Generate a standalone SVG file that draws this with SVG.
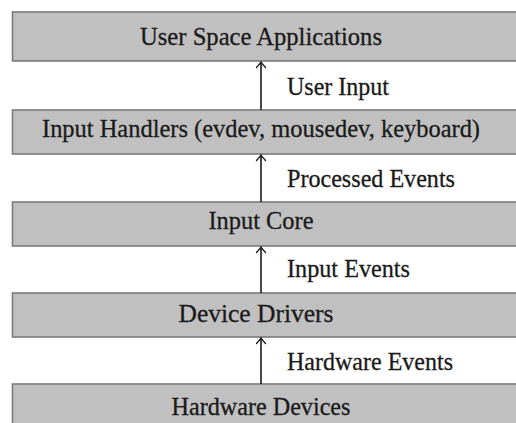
<svg xmlns="http://www.w3.org/2000/svg" width="516" height="423" viewBox="0 0 516 423">
  <style>
    .layer rect { fill: #c0c0c0; stroke: #7a7a7a; stroke-width: 1.6; }
    .layer text, .label { font-family: "Liberation Serif", "Times New Roman", serif; font-size: 25px; fill: #1a1a1a; stroke: #1a1a1a; stroke-width: 0.3; }
    .layer text { text-anchor: middle; }
    .edge { stroke: #1a1a1a; stroke-width: 1.6; fill: none; marker-end: url(#tip); }
  </style>
  <defs>
    <!-- open, curved arrowhead -->
    <marker id="tip" markerUnits="userSpaceOnUse" viewBox="-7 -6 9 12" markerWidth="9" markerHeight="12" refX="0" refY="0" orient="auto">
      <path d="M -5.5 -4.5 Q -1.5 -0.8 0 0 Q -1.5 0.8 -5.5 4.5" fill="none" stroke="#1a1a1a" stroke-width="1.4" stroke-linecap="round"/>
    </marker>
  </defs>
  <rect width="516" height="423" fill="#ffffff"/>

  <g id="user-space" class="layer">
    <rect x="12.5" y="12" width="510" height="49"/>
    <text x="261" y="45" textLength="242" lengthAdjust="spacingAndGlyphs">User Space Applications</text>
  </g>
  <g id="input-handlers" class="layer">
    <rect x="12.5" y="110" width="510" height="44"/>
    <text x="261" y="137" textLength="438" lengthAdjust="spacingAndGlyphs">Input Handlers (evdev, mousedev, keyboard)</text>
  </g>
  <g id="input-core" class="layer">
    <rect x="12.5" y="202" width="510" height="44"/>
    <text x="261" y="229" textLength="105" lengthAdjust="spacingAndGlyphs">Input Core</text>
  </g>
  <g id="device-drivers" class="layer">
    <rect x="12.5" y="293" width="510" height="44"/>
    <text x="256" y="322" textLength="155" lengthAdjust="spacingAndGlyphs">Device Drivers</text>
  </g>
  <g id="hardware-devices" class="layer">
    <rect x="12.5" y="384" width="510" height="50"/>
    <text x="261" y="415" textLength="179" lengthAdjust="spacingAndGlyphs">Hardware Devices</text>
  </g>

  <g id="connectors">
    <line class="edge" x1="261" y1="110" x2="261" y2="62"/>
    <line class="edge" x1="261" y1="202" x2="261" y2="155"/>
    <line class="edge" x1="261" y1="293" x2="261" y2="247"/>
    <line class="edge" x1="261" y1="384" x2="261" y2="338"/>
    <text class="label" x="287" y="95" textLength="102" lengthAdjust="spacingAndGlyphs">User Input</text>
    <text class="label" x="287" y="187" textLength="168" lengthAdjust="spacingAndGlyphs">Processed Events</text>
    <text class="label" x="287" y="277" textLength="123" lengthAdjust="spacingAndGlyphs">Input Events</text>
    <text class="label" x="287" y="370" textLength="166" lengthAdjust="spacingAndGlyphs">Hardware Events</text>
  </g>
</svg>
